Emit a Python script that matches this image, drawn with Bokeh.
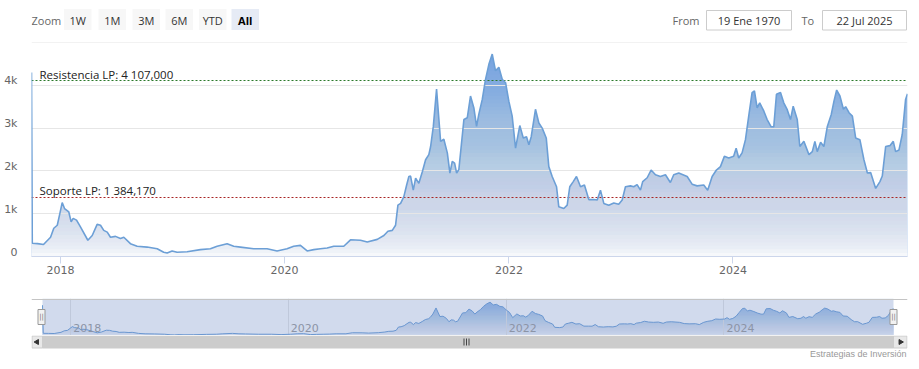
import numpy as np
import pandas as pd
from bokeh.plotting import figure
from bokeh.layouts import column
from bokeh.models import (Range1d, FixedTicker, DatetimeTickFormatter, Label,
                          LinearAxis, CustomJSTickFormatter)
from bokeh.core.properties import value
from bokeh.embed import file_html
from bokeh.resources import INLINE

# ---------------- data ----------------
dec_years = [
    2017.741, 2017.748, 2017.795, 2017.848, 2017.911, 2017.940, 2017.971, 2017.994,
    2018.015, 2018.036, 2018.074, 2018.095, 2018.113, 2018.143, 2018.178, 2018.244,
    2018.283, 2018.327, 2018.357, 2018.386, 2018.417, 2018.446, 2018.491, 2018.535,
    2018.565, 2018.624, 2018.684, 2018.773, 2018.863, 2018.921, 2018.952, 2018.996,
    2019.041, 2019.130, 2019.249, 2019.338, 2019.398, 2019.487, 2019.546, 2019.606,
    2019.724, 2019.844, 2019.933, 2020.022, 2020.081, 2020.141, 2020.201, 2020.260,
    2020.319, 2020.379, 2020.438, 2020.527, 2020.587, 2020.676, 2020.736, 2020.825,
    2020.884, 2020.920, 2020.959, 2020.988, 2021.009, 2021.033, 2021.062, 2021.087,
    2021.107, 2021.122, 2021.146, 2021.167, 2021.196, 2021.227, 2021.256, 2021.285,
    2021.301, 2021.325, 2021.354, 2021.375, 2021.390, 2021.419, 2021.450, 2021.473,
    2021.494, 2021.515, 2021.533, 2021.553, 2021.598, 2021.628, 2021.657, 2021.687,
    2021.711, 2021.731, 2021.762, 2021.791, 2021.821, 2021.851, 2021.880, 2021.910,
    2021.940, 2021.970, 2021.999, 2022.029, 2022.059, 2022.097, 2022.128, 2022.157,
    2022.178, 2022.199, 2022.237, 2022.267, 2022.297, 2022.333, 2022.356, 2022.386,
    2022.425, 2022.445, 2022.490, 2022.520, 2022.543, 2022.574, 2022.603, 2022.639,
    2022.674, 2022.713, 2022.757, 2022.788, 2022.817, 2022.847, 2022.891, 2022.936,
    2022.980, 2023.011, 2023.040, 2023.085, 2023.114, 2023.144, 2023.174, 2023.194,
    2023.234, 2023.269, 2023.308, 2023.352, 2023.397, 2023.441, 2023.471, 2023.516,
    2023.591, 2023.635, 2023.680, 2023.739, 2023.774, 2023.814, 2023.852, 2023.888,
    2023.923, 2023.962, 2024.006, 2024.028, 2024.051, 2024.081, 2024.111, 2024.140,
    2024.170, 2024.191, 2024.215, 2024.238, 2024.274, 2024.304, 2024.340, 2024.363,
    2024.387, 2024.423, 2024.452, 2024.483, 2024.512, 2024.536, 2024.572, 2024.595,
    2024.631, 2024.676, 2024.706, 2024.729, 2024.750, 2024.780, 2024.809, 2024.840,
    2024.875, 2024.899, 2024.923, 2024.952, 2024.983, 2025.003, 2025.033, 2025.063,
    2025.092, 2025.130, 2025.166, 2025.197, 2025.226, 2025.271, 2025.309, 2025.330,
    2025.360, 2025.398, 2025.428, 2025.449, 2025.479, 2025.508, 2025.538, 2025.555,
]
prices = [
    4300, 310, 300, 280, 450, 660, 730, 1000,
    1260, 1120, 1040, 810, 890, 850, 690, 380,
    490, 750, 730, 610, 570, 450, 470, 420,
    450, 300, 240, 220, 180, 100, 80, 130,
    100, 110, 160, 180, 240, 300, 240, 220,
    180, 180, 130, 180, 240, 260, 130, 160,
    180, 200, 240, 240, 390, 380, 340, 400,
    490, 590, 610, 730, 1200, 1240, 1400, 1670,
    1870, 1880, 1550, 1830, 1710, 1980, 2260, 2380,
    2570, 3040, 3910, 3200, 2690, 2740, 2420, 1950,
    2220, 2180, 1950, 2030, 3200, 3240, 3750, 3470,
    3040, 3320, 3670, 4140, 4490, 4730, 4340, 4420,
    4140, 4060, 3630, 3280, 2530, 3060, 2770, 2800,
    2610, 2800, 3440, 3120, 3000, 2770, 2100, 1870,
    1630, 1160, 1120, 1200, 1630, 1750, 1870, 1630,
    1670, 1330, 1330, 1320, 1550, 1240, 1200, 1250,
    1220, 1320, 1630, 1650, 1630, 1680, 1550, 1750,
    1840, 2020, 1910, 1870, 1910, 1730, 1910, 1950,
    1870, 1690, 1650, 1670, 1550, 1870, 2020, 2100,
    2340, 2300, 2340, 2530, 2300, 2420, 2730, 3280,
    3830, 3870, 3470, 3590, 3400, 3200, 3030, 3030,
    3790, 3830, 3590, 3430, 3200, 3510, 3200, 2570,
    2690, 2380, 2450, 2690, 2450, 2670, 2570, 3040,
    3320, 3630, 3890, 3750, 3440, 3500, 3360, 3280,
    2770, 2730, 2260, 1950, 1960, 1590, 1750, 1880,
    2570, 2590, 2690, 2450, 2490, 2850, 3670, 3800,
]
resistance_level = 4107.0
support_level = 1384.17
y_ticks = [0, 1000, 2000, 3000, 4000, 5000]
y_label_ticks = [0, 1000, 2000, 3000, 4000]
x_tick_years = [2018, 2020, 2022, 2024]
zoom_buttons = ["1W", "1M", "3M", "6M", "YTD", "All"]
selected_button = "All"
date_from = "19 Ene 1970"
date_to = "22 Jul 2025"
credits_text = "Estrategias de Inversión"


# ---------------- helpers ----------------
def dec_to_ts(y):
    yr = int(np.floor(y))
    a = pd.Timestamp(year=yr, month=1, day=1)
    b = pd.Timestamp(year=yr + 1, month=1, day=1)
    return a + (b - a) * (y - yr)


def es_num(v):
    return f"{v:,.3f}".replace(",", " ").replace(".", ",")


def white_band_alphas(n):
    c = (np.arange(1, n + 1) - 0.5) / n
    c_next = np.append(c[1:], 1.0)
    return list(1 - c / c_next)


dates = pd.DatetimeIndex([dec_to_ts(y) for y in dec_years])
t_ms = dates.asi8 / 1e6
vals = np.array(prices, dtype=float)
T0, T1 = float(t_ms[0]), float(t_ms[-1])
tick_ms = [pd.Timestamp(year=y, month=1, day=1).value / 1e6 for y in x_tick_years]

SANS = "DejaVu Sans"
OPEN = "Open Sans"
LINE_C = "#6c9fd6"
W = 919
BL, BR = 31, 12   # shared left/right borders (frames are aligned in a column)
Y_MAX = 5000
FRAME_H = 214


def bare(fig):
    fig.outline_line_color = None
    fig.xgrid.visible = False
    fig.ygrid.visible = False
    return fig


# ---------------- top bar (range selector) ----------------
top = bare(figure(width=W, height=41, x_range=Range1d(31, 907), y_range=Range1d(41, 0),
                  output_backend="svg", toolbar_location=None,
                  x_axis_location=None, y_axis_location=None,
                  min_border_left=BL, min_border_right=BR, min_border_top=0, min_border_bottom=0))
top.text(x=[31], y=[19.5], text=["Zoom"], text_font=value(OPEN), text_font_size="11px",
         text_color="#666666", text_baseline="middle", text_align="left")
btn_left = [63.5, 98, 132, 165, 198.5, 231]
btn_w = 27.5
for lbl, bl in zip(zoom_buttons, btn_left):
    sel = lbl == selected_button
    top.quad(left=[bl], right=[bl + btn_w], top=[8.5], bottom=[29.5],
             fill_color="#e6ebf5" if sel else "#f7f7f7", line_color=None)
    top.text(x=[bl + btn_w / 2], y=[19.5], text=[lbl], text_font=value(OPEN),
             text_font_size="11px", text_font_style="bold" if sel else "normal",
             text_color="#000000" if sel else "#333333",
             text_align="center", text_baseline="middle")
top.text(x=[672], y=[19.5], text=["From"], text_font=value(OPEN), text_font_size="11px",
         text_color="#666666", text_baseline="middle", text_align="left")
top.quad(left=[706], right=[791], top=[10], bottom=[29.5], fill_color="white",
         line_color="#cccccc", line_width=1)
top.text(x=[748.5], y=[19.5], text=[date_from], text_font=value(OPEN), text_font_size="11px",
         text_color="#333333", text_baseline="middle", text_align="center")
top.text(x=[801], y=[19.5], text=["To"], text_font=value(OPEN), text_font_size="11px",
         text_color="#666666", text_baseline="middle", text_align="left")
top.quad(left=[822], right=[906], top=[10], bottom=[29.5], fill_color="white",
         line_color="#cccccc", line_width=1)
top.text(x=[864], y=[19.5], text=[date_to], text_font=value(OPEN), text_font_size="11px",
         text_color="#333333", text_baseline="middle", text_align="center")

# ---------------- main chart ----------------
p = bare(figure(width=W, height=249, x_axis_type="datetime", y_axis_location=None,
                x_range=Range1d(T0, T1), y_range=Range1d(0, Y_MAX),
                output_backend="svg", toolbar_location=None,
                min_border_left=BL, min_border_right=BR, min_border_top=1, min_border_bottom=34))

# area with vertical gradient (solid colour, then stacked white veils)
p.varea(x=t_ms, y1=0, y2=vals, fill_color="#6ea0e0", fill_alpha=1.0)
NB = 60
tops = [Y_MAX * (j + 1) / NB for j in range(NB)]
p.quad(left=[T0] * NB, right=[T1] * NB, bottom=[0] * NB, top=tops,
       fill_color="white", fill_alpha=white_band_alphas(NB), line_color=None)
p.hspan(y=y_ticks, line_color="#e6e6e6", line_width=1)
p.hspan(y=[resistance_level], line_color="#2a7a2a", line_width=1, line_dash="2 2")
p.hspan(y=[support_level], line_color="#a82424", line_width=1, line_dash="2 2")
p.line(x=t_ms, y=vals, line_color=LINE_C, line_width=1.6)

# y axis labels sit ~4.5px above their grid line (Highcharts style)
nudge = 4.5 * Y_MAX / FRAME_H
yax = LinearAxis(ticker=FixedTicker(ticks=[v + nudge for v in y_label_ticks]),
                 formatter=CustomJSTickFormatter(args=dict(nudge=nudge), code="""
                     const v = Math.round((tick - nudge) / 1000);
                     return v == 0 ? "0" : v + "k";
                 """))
yax.axis_line_color = None
yax.major_tick_line_color = None
yax.minor_tick_line_color = None
yax.major_tick_out = 0
yax.major_tick_in = 0
yax.major_label_standoff = 14
yax.major_label_text_color = "#666666"
yax.major_label_text_font = SANS
yax.major_label_text_font_size = "11px"
p.add_layout(yax, "left")

p.add_layout(Label(x=8, x_units="screen", y=resistance_level, y_units="data", y_offset=6.5,
                   text=f"Resistencia LP: {es_num(resistance_level)}", text_align="left",
                   text_baseline="middle", text_font=OPEN, text_font_size="11.5px",
                   text_color="#222222"))
p.add_layout(Label(x=8, x_units="screen", y=support_level, y_units="data", y_offset=6.5,
                   text=f"Soporte LP: {es_num(support_level)}", text_align="left",
                   text_baseline="middle", text_font=OPEN, text_font_size="11.5px",
                   text_color="#222222"))

ax = p.xaxis[0]
ax.ticker = FixedTicker(ticks=tick_ms)
ax.formatter = DatetimeTickFormatter(years="%Y", months="%Y", days="%Y", hours="%Y")
ax.axis_line_color = "#ccd6eb"
ax.major_tick_line_color = "#ccd6eb"
ax.major_tick_out = 7
ax.major_tick_in = 0
ax.minor_tick_line_color = None
ax.major_label_text_color = "#666666"
ax.major_label_text_font = SANS
ax.major_label_text_font_size = "11px"
ax.major_label_standoff = 2

# ---------------- navigator ----------------
px_per_ms = 851.0 / (T1 - T0)
NAV_MAX = 5250
nav = bare(figure(width=W, height=45, x_axis_type="datetime",
                  x_range=Range1d(T0 - 11 / px_per_ms, T1 + 14 / px_per_ms),
                  y_range=Range1d(0, NAV_MAX),
                  x_axis_location=None, y_axis_location=None,
                  output_backend="svg", toolbar_location=None,
                  min_border_left=BL, min_border_right=BR, min_border_top=8, min_border_bottom=0))
nav.varea(x=t_ms, y1=0, y2=vals, fill_color="#86b2e8", fill_alpha=1.0)
NB2 = 40
tops2 = [NAV_MAX * (j + 1) / NB2 for j in range(NB2)]
nav.quad(left=[T0] * NB2, right=[T1] * NB2, bottom=[0] * NB2, top=tops2,
         fill_color="white", fill_alpha=white_band_alphas(NB2), line_color=None)
nav.vspan(x=tick_ms, line_color="#e6e6e6", line_width=1)
nav.line(x=t_ms, y=vals, line_color=LINE_C, line_width=1)
nav.quad(left=[T0], right=[T1], bottom=[0], top=[NAV_MAX],
         fill_color="#6685c2", fill_alpha=0.3, line_color=None)
nav.hspan(y=[NAV_MAX * 0.986], line_color="#c4c4c4", line_width=1)
for tm, yr in zip(tick_ms, x_tick_years):
    nav.add_layout(Label(x=tm, x_units="data", y=8, y_units="screen", x_offset=2.5,
                         text=str(yr), text_align="left", text_baseline="middle",
                         text_font=SANS, text_font_size="11px", text_color="#8c94a6"))
nav.rect(x=[T0 - 1 / px_per_ms, T1], y=[NAV_MAX / 2, NAV_MAX / 2], width=7, height=15,
         width_units="screen", height_units="screen",
         fill_color="#f2f2f2", line_color="#999999", line_width=1)
nav.text(x=[T0 - 1 / px_per_ms, T1], y=[NAV_MAX / 2, NAV_MAX / 2], text=["||", "||"],
         text_font=value(SANS), text_font_size="7px", text_color="#777777",
         text_align="center", text_baseline="middle")

# ---------------- scrollbar + credits ----------------
bot = bare(figure(width=W, height=34, x_range=Range1d(31, 907), y_range=Range1d(369, 335),
                  output_backend="svg", toolbar_location=None,
                  x_axis_location=None, y_axis_location=None,
                  min_border_left=BL, min_border_right=BR, min_border_top=0, min_border_bottom=0))
bot.quad(left=[42], right=[893], top=[335], bottom=[348], fill_color="#cccccc", line_color=None)
bot.quad(left=[31.5, 893], right=[42, 906.5], top=[335.5, 335.5], bottom=[347.5, 347.5],
         fill_color="#e8e8e8", line_color="#cccccc", line_width=1)
bot.scatter(x=[36.5, 900], y=[341.5, 341.5], marker="triangle", angle=[np.pi / 2, -np.pi / 2],
            size=5, fill_color="#333333", line_color="#333333")
bot.segment(x0=[463.5, 466, 468.5], x1=[463.5, 466, 468.5], y0=[338, 338, 338],
            y1=[345, 345, 345], line_color="#444444", line_width=1)
bot.text(x=[906], y=[353], text=[credits_text], text_font=value("Liberation Sans"),
         text_font_size="9px", text_color="#999999", text_align="right",
         text_baseline="middle")

layout = column(top, p, nav, bot, spacing=0)
open("out.html", "w").write(file_html(layout, INLINE))
